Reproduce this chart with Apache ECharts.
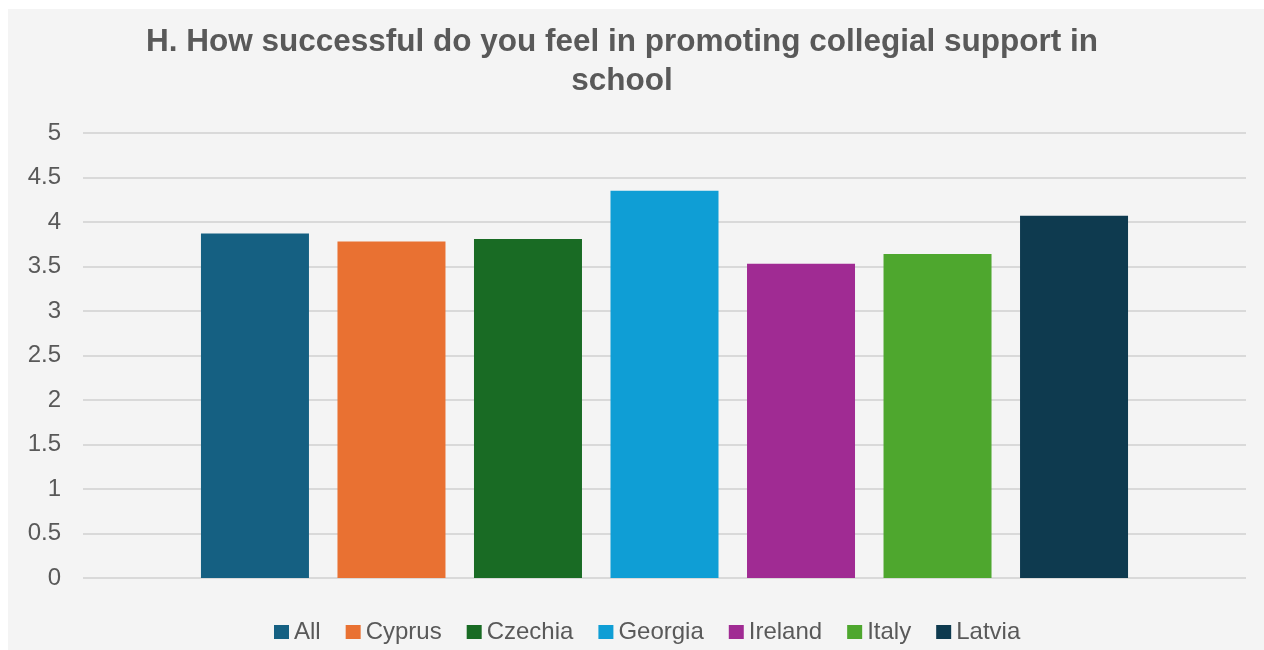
<!DOCTYPE html>
<html>
<head>
<meta charset="utf-8">
<script src="https://cdn.jsdelivr.net/npm/echarts@6/dist/echarts.min.js"></script>
<style>
  html, body { margin: 0; padding: 0; background: #ffffff; }
  #panel { position: absolute; left: 8px; top: 9px; width: 1256px; height: 641px; background: #f4f4f4; }
  #chart { position: absolute; left: 0; top: 0; width: 1264px; height: 650px; }
</style>
</head>
<body>
<div id="panel"></div>
<div id="chart"></div>
<script>
const titleText = 'H. How successful do you feel in promoting collegial support in\nschool';
const seriesNames = ['All', 'Cyprus', 'Czechia', 'Georgia', 'Ireland', 'Italy', 'Latvia'];
const seriesValues = [3.87, 3.78, 3.81, 4.35, 3.53, 3.64, 4.07];
const seriesColors = ['#156082', '#e97132', '#196b24', '#0f9ed5', '#a02b93', '#4ea72e', '#0e3a4f'];
const categories = [''];
const yMin = 0, yMax = 5, yInterval = 0.5;

const FONT = '"Liberation Sans", Arial, sans-serif';
const chart = echarts.init(document.getElementById('chart'), null, { renderer: 'canvas' });

const series = seriesNames.map((name, i) => ({
  name: name,
  type: 'bar',
  data: [seriesValues[i]],
  barWidth: 108,
  barGap: '26.4%',
  itemStyle: { color: seriesColors[i] },
  emphasis: { disabled: true }
}));

chart.setOption({
  animation: false,
  backgroundColor: 'transparent',
  textStyle: { fontFamily: FONT },
  title: {
    text: titleText,
    left: 622,
    textAlign: 'center',
    top: 23,
    padding: 0,
    textStyle: {
      fontFamily: FONT,
      fontSize: 31.5,
      fontWeight: 'bold',
      color: '#595959',
      lineHeight: 39
    }
  },
  legend: {
    data: seriesNames,
    left: 274,
    top: 620,
    padding: 0,
    icon: 'rect',
    itemWidth: 15,
    itemHeight: 14,
    itemGap: 25,
    textStyle: { fontFamily: FONT, fontSize: 24, color: '#595959' }
  },
  grid: { left: 83, right: 18, top: 133, bottom: 72, containLabel: false },
  xAxis: {
    type: 'category',
    data: categories,
    axisLine: { show: false },
    axisTick: { show: false },
    axisLabel: { show: false },
    splitLine: { show: false }
  },
  yAxis: {
    type: 'value',
    min: yMin,
    max: yMax,
    interval: yInterval,
    axisLine: { show: false },
    axisTick: { show: false },
    axisLabel: { fontFamily: FONT, fontSize: 24, color: '#595959', margin: 22 },
    splitLine: { show: true, lineStyle: { color: '#d9d9d9', width: 2 } }
  },
  series: series
});
</script>
</body>
</html>
